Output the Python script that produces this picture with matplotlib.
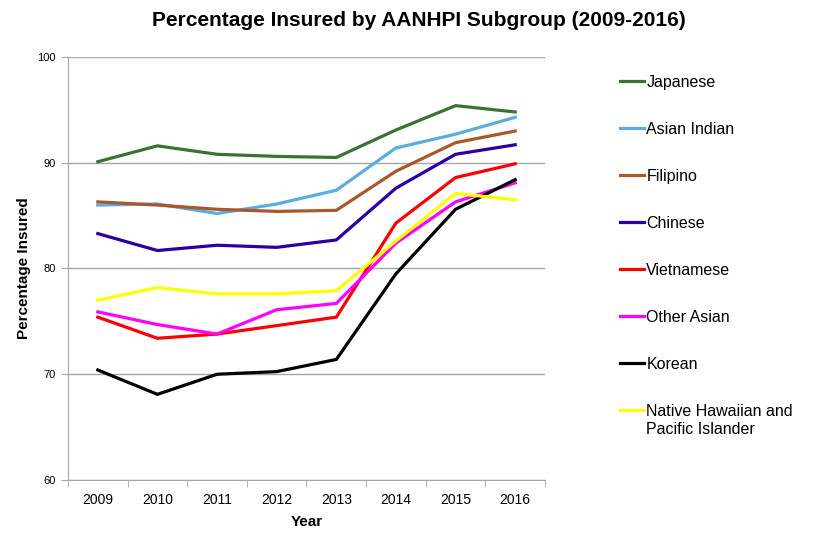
import matplotlib
matplotlib.use("Agg")
import matplotlib.pyplot as plt
import numpy as np

plt.rcParams['font.family'] = ['Liberation Sans', 'DejaVu Sans']

years = ['2009', '2010', '2011', '2012', '2013', '2014', '2015', '2016']

japanese = [90.1, 91.6, 90.8, 90.6, 90.5, 93.1, 95.4, 94.8]
asian_indian = [86.0, 86.1, 85.2, 86.1, 87.4, 91.4, 92.7, 94.3]
filipino = [86.3, 86.0, 85.6, 85.4, 85.5, 89.2, 91.9, 93.0]
chinese = [83.3, 81.7, 82.2, 82.0, 82.7, 87.6, 90.8, 91.7]
vietnamese = [75.4, 73.4, 73.8, 74.6, 75.4, 84.3, 88.6, 89.9]
other_asian = [75.9, 74.7, 73.8, 76.1, 76.7, 82.4, 86.3, 88.1]
korean = [70.4, 68.1, 70.0, 70.25, 71.4, 79.5, 85.6, 88.4]
nhpi = [77.0, 78.2, 77.6, 77.6, 77.9, 82.6, 87.1, 86.5]

series = [
    ('Japanese', japanese, '#3b7135'),
    ('Asian Indian', asian_indian, '#5aade3'),
    ('Filipino', filipino, '#a9582b'),
    ('Chinese', chinese, '#2a00a6'),
    ('Vietnamese', vietnamese, '#ff0000'),
    ('Other Asian', other_asian, '#ff00ff'),
    ('Korean', korean, '#000000'),
    ('Native Hawaiian and', nhpi, '#ffff00'),
]
nhpi_second_line = 'Pacific Islander'

fig = plt.figure(figsize=(8.37, 5.39), dpi=100)
ax = fig.add_axes([68 / 837, 1 - 480 / 539, (545 - 68) / 837, (480 - 57) / 539])

x = np.arange(len(years))
for name, vals, color in series:
    ax.plot(x, vals, color=color, linewidth=2.3, label=name, solid_joinstyle='miter')

ax.set_xlim(-0.5, len(years) - 0.5)
ax.set_ylim(60, 100)
ax.set_yticks([60, 70, 80, 90, 100])
ax.yaxis.grid(True, color='#a6a6a6', linewidth=1.0)
ax.set_axisbelow(True)

ax.set_xticks(x)
ax.set_xticklabels(years, fontsize=10)
ax.set_xticks(np.arange(-0.5, len(years), 1.0), minor=True)
ax.tick_params(axis='x', which='major', length=0, pad=9)
ax.tick_params(axis='x', which='minor', length=5, color='#a6a6a6', direction='out')
ax.tick_params(axis='y', labelsize=8, length=5, color='#a6a6a6', pad=4)

for side in ['top', 'right']:
    ax.spines[side].set_visible(False)
for side in ['left', 'bottom']:
    ax.spines[side].set_color('#a6a6a6')

ax.set_xlabel('Year', fontsize=11, fontweight='bold', labelpad=6)
ax.set_ylabel('Percentage Insured', fontsize=11, fontweight='bold', labelpad=4)

fig.text(0.5, 1 - 21 / 539, 'Percentage Insured by AANHPI Subgroup (2009-2016)',
         ha='center', va='center', fontsize=15, fontweight='bold')

leg = fig.legend(loc='upper left', bbox_to_anchor=(620 / 837, 1 - 75 / 539), frameon=False,
                 fontsize=11.5, handlelength=1.5, handletextpad=0.15, labelspacing=2.0,
                 borderpad=0, borderaxespad=0)

# second line of the last legend label, under the first line
fig.canvas.draw()
bb = leg.get_texts()[-1].get_window_extent()
fig.text(bb.x0 / 837, (bb.y0 - 18) / 539, nhpi_second_line, fontsize=11.5,
         ha='left', va='bottom')

fig.savefig('out.png', dpi=100)
